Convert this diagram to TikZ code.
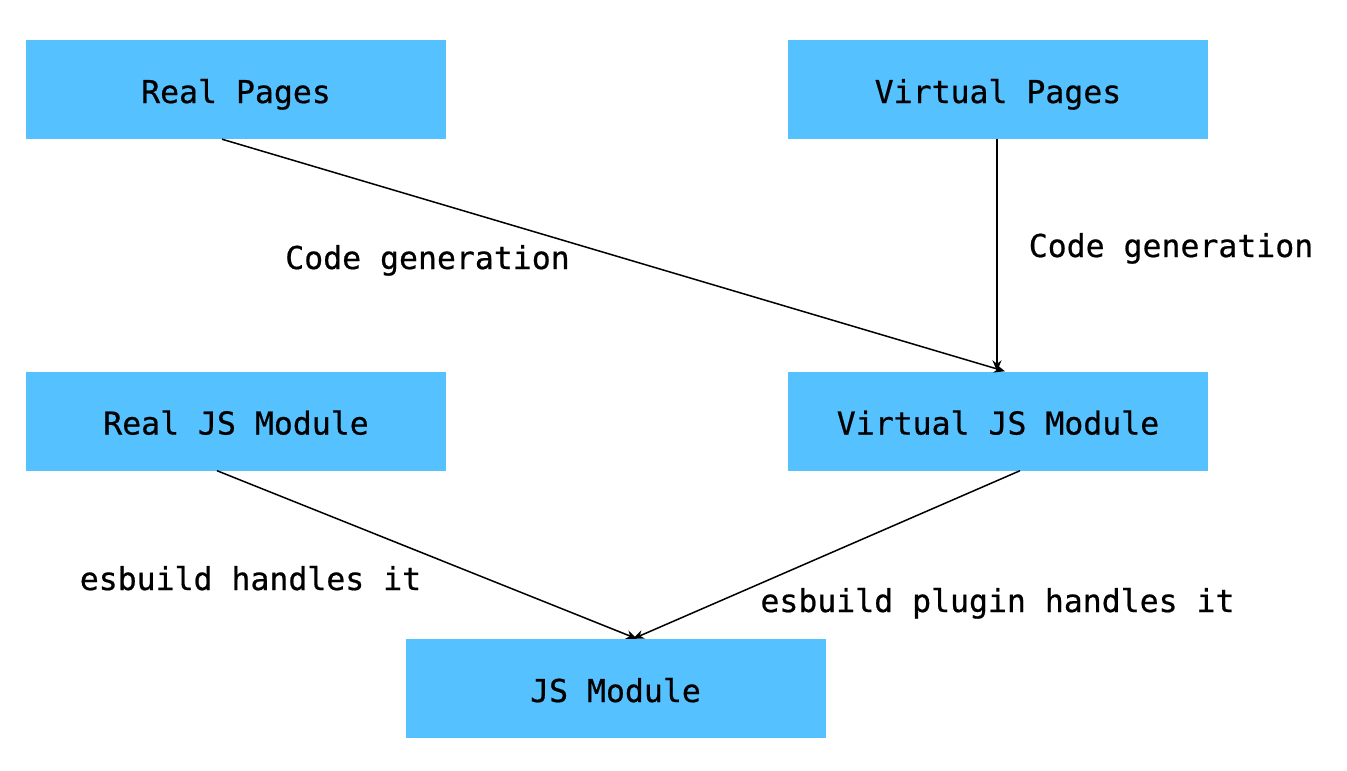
\documentclass[tikz,border=0pt]{standalone}
\usepackage{fontspec}
\setmonofont[FakeBold=0.6]{DejaVu Sans Mono}
\usetikzlibrary{arrows.meta}
\definecolor{boxblue}{HTML}{56C1FF}
\tikzset{
  box/.style={fill=boxblue, draw=none, minimum width=420pt, minimum height=99pt, inner sep=0pt,
    font=\ttfamily\fontsize{31.5}{38}\selectfont, text height=27pt, text depth=0pt},
  lbl/.style={font=\ttfamily\fontsize{31.5}{38}\selectfont, inner sep=0pt, text height=22pt, text depth=0pt},
  conn/.style={draw=black, line width=1.5pt, -{Stealth[length=11pt,width=9pt]}}
}
\begin{document}
\begin{tikzpicture}[x=1pt,y=-1pt]
\useasboundingbox (0,0) rectangle (1347,771);
\node[box] (rp) at (236,89.5) {Real Pages};
\node[box] (vp) at (998,89.5) {Virtual Pages};
\node[box] (rjs) at (236,421) {Real JS Module};
\node[box] (vjs) at (998,421) {Virtual JS Module};
\node[box] (js) at (615.5,688.5) {JS Module};
\draw[conn] ([xshift=-14pt]rp.south) -- ([xshift=7pt]vjs.north);
\draw[conn] ([xshift=-1pt]vp.south) -- ([xshift=-1pt]vjs.north);
\draw[conn] ([xshift=-19pt]rjs.south) -- ([xshift=21.5pt]js.north);
\draw[conn] ([xshift=22pt]vjs.south) -- ([xshift=17.5pt]js.north);
\node[lbl] (l1) at (427.5,258) {Code generation};
\node[lbl] (l2) at (1171,246) {Code generation};
\node[lbl] (l3) at (250.5,579) {esbuild handles it};
\node[lbl] (l4) at (997.5,601) {esbuild plugin handles it};
\end{tikzpicture}
\end{document}
